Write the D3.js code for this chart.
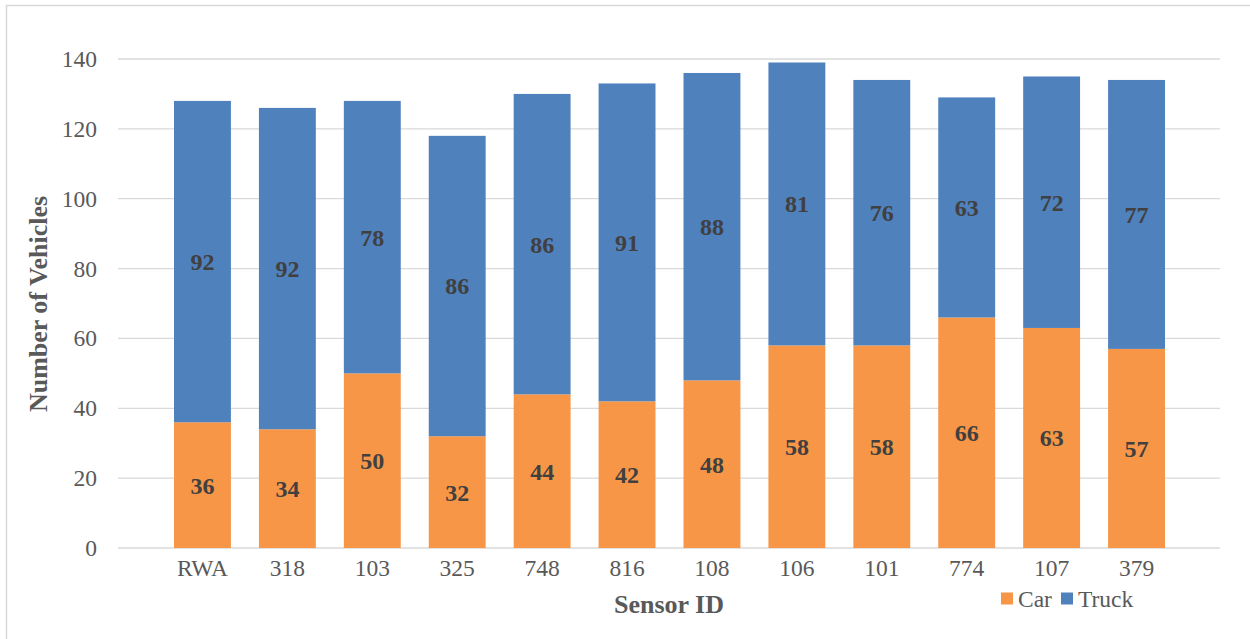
<!DOCTYPE html>
<html>
<head>
<meta charset="utf-8">
<script src="https://cdn.jsdelivr.net/npm/d3@7"></script>
<style>
  html, body { margin: 0; padding: 0; background: #fff; }
  svg { display: block; }
  text { font-family: "Liberation Serif", "Times New Roman", Times, serif; }
</style>
</head>
<body>
<svg id="chart" width="1250" height="639"></svg>
<script>
const categories = ["RWA", "318", "103", "325", "748", "816", "108", "106", "101", "774", "107", "379"];
const carValues = [36, 34, 50, 32, 44, 42, 48, 58, 58, 66, 63, 57];
const truckValues = [92, 92, 78, 86, 86, 91, 88, 81, 76, 63, 72, 77];
const yTicks = [0, 20, 40, 60, 80, 100, 120, 140];
const seriesNames = ["Car", "Truck"];
const seriesColors = ["#F79646", "#4F81BD"];

const svg = d3.select("#chart");
const font = "\"Liberation Serif\", \"Times New Roman\", Times, serif";

// chart border
svg.append("rect").attr("x", 6.5).attr("y", 5.5).attr("width", 1260).attr("height", 660)
  .attr("fill", "none").attr("stroke", "#D9D9D9").attr("stroke-width", 1.5);

const gridLeft = 118, gridRight = 1220;
const x = d3.scaleBand().domain(categories).range([160, 1179]).paddingInner(0.33).paddingOuter(0.165);
const y = d3.scaleLinear().domain([0, 140]).range([548, 59]);

// gridlines
svg.append("g").selectAll("line").data(yTicks).join("line")
  .attr("x1", gridLeft).attr("x2", gridRight)
  .attr("y1", d => y(d)).attr("y2", d => y(d))
  .attr("stroke", "#D9D9D9").attr("stroke-width", 1.3);

// y axis tick labels
const yAxis = d3.axisLeft(y).tickValues(yTicks).tickSize(0).tickPadding(0);
const gy = svg.append("g").attr("transform", "translate(97,0)").call(yAxis);
gy.attr("font-family", font).attr("font-size", null);
gy.select(".domain").remove();
gy.selectAll("text").style("font-family", font).style("font-size", "23.5px").attr("fill", "#595959");

// x axis labels
const xAxis = d3.axisBottom(x).tickSize(0).tickPadding(0);
const gx = svg.append("g").attr("transform", "translate(0,559)").call(xAxis);
gx.attr("font-family", font).attr("font-size", null);
gx.select(".domain").remove();
gx.selectAll("text").style("font-family", font).style("font-size", "23.5px").attr("fill", "#595959")
  .attr("dy", "0.72em");

// stacked data
const rows = categories.map((c, i) => ({ cat: c, Car: carValues[i], Truck: truckValues[i] }));
const stack = d3.stack().keys(seriesNames)(rows);

const layers = svg.append("g").selectAll("g").data(stack).join("g")
  .attr("fill", (d, i) => seriesColors[i]);
layers.selectAll("rect").data(d => d).join("rect")
  .attr("x", d => x(d.data.cat))
  .attr("width", x.bandwidth())
  .attr("y", d => y(d[1]))
  .attr("height", d => y(d[0]) - y(d[1]));

// data labels
const labels = svg.append("g");
stack.forEach(layer => {
  labels.selectAll(null).data(layer).join("text")
    .attr("x", d => x(d.data.cat) + x.bandwidth() / 2)
    .attr("y", d => y((d[0] + d[1]) / 2))
    .attr("dy", "0.35em")
    .attr("text-anchor", "middle")
    .style("font-family", font).attr("font-weight", "bold").style("font-size", "24px")
    .attr("fill", "#404040")
    .text(d => d[1] - d[0]);
});

// axis titles
svg.append("text")
  .attr("transform", "translate(47,304) rotate(-90)")
  .attr("text-anchor", "middle")
  .style("font-family", font).attr("font-weight", "bold").style("font-size", "26px")
  .attr("fill", "#595959")
  .text("Number of Vehicles");

svg.append("text")
  .attr("x", 669).attr("y", 613)
  .attr("text-anchor", "middle")
  .style("font-family", font).attr("font-weight", "bold").style("font-size", "26px")
  .attr("fill", "#595959")
  .text("Sensor ID");

// legend
const legendX = [1001, 1061];
const legend = svg.append("g");
seriesNames.forEach((name, i) => {
  legend.append("rect").attr("x", legendX[i]).attr("y", 592.5).attr("width", 12).attr("height", 12)
    .attr("fill", seriesColors[i]);
  legend.append("text").attr("x", legendX[i] + 17).attr("y", 606.5)
    .style("font-family", font).style("font-size", "23.5px").attr("fill", "#595959")
    .text(name);
});
</script>
</body>
</html>
